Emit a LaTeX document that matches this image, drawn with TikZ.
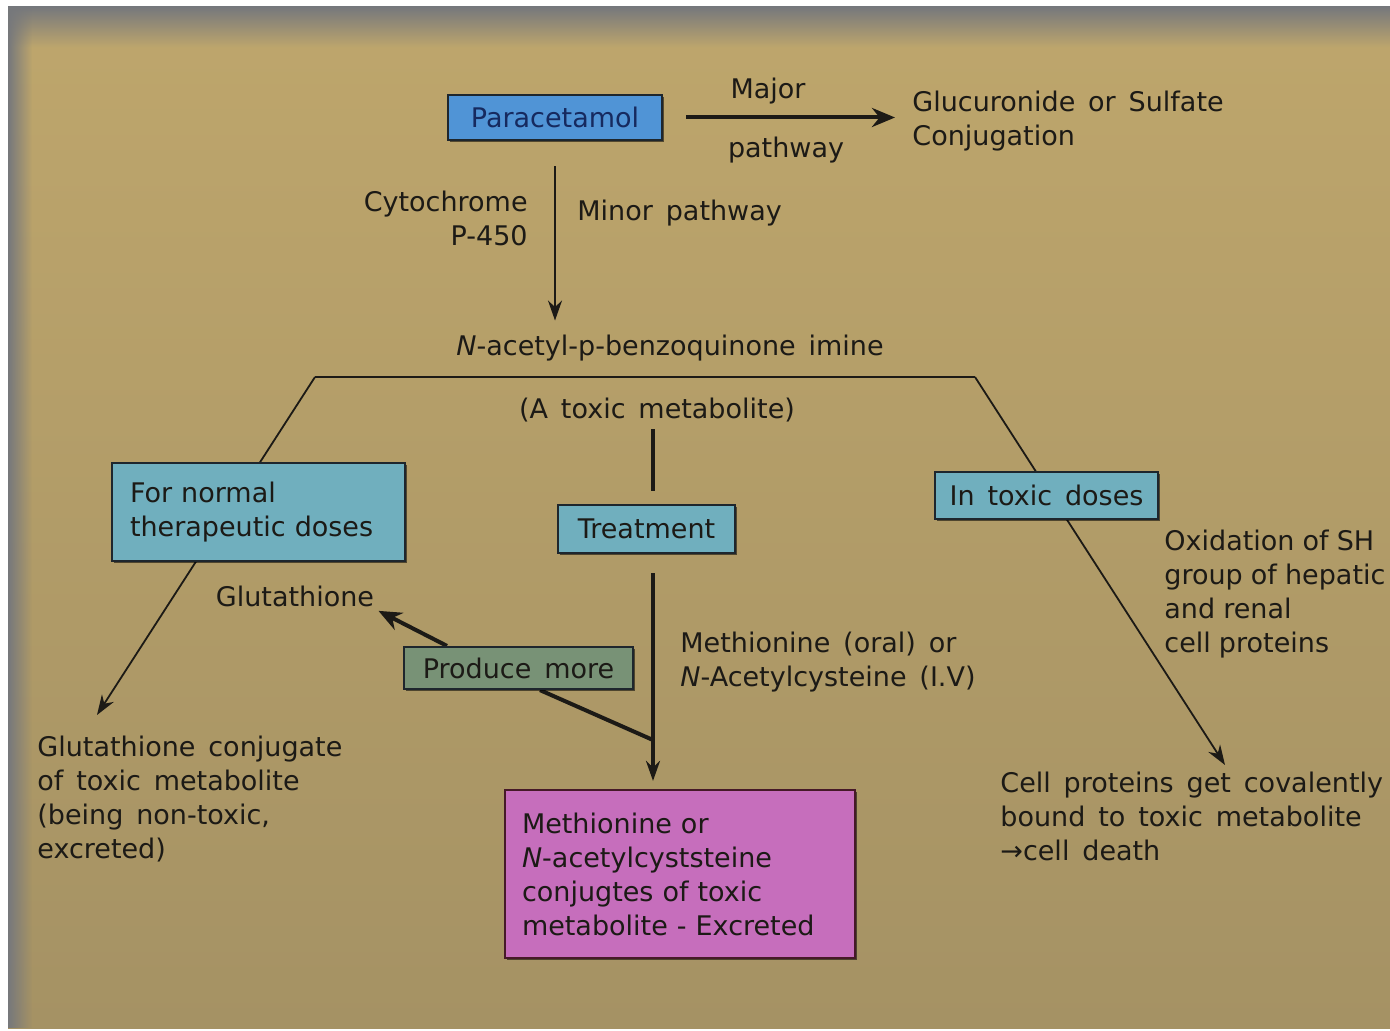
\documentclass[tikz,border=0pt]{standalone}
\usepackage{fontspec}
\setmainfont{DejaVu Sans}[WordSpace=1.5]
\usetikzlibrary{arrows.meta,shadows,fadings}
\definecolor{tantop}{RGB}{190,166,108}
\definecolor{tan}{RGB}{197,172,113}
\definecolor{tandark}{RGB}{165,146,100}
\definecolor{band}{RGB}{118,120,124}
\definecolor{ink}{RGB}{28,26,22}
\definecolor{navy}{RGB}{22,42,95}
\definecolor{parablue}{RGB}{80,148,214}
\definecolor{tealbox}{RGB}{112,175,190}
\definecolor{sage}{RGB}{120,146,118}
\definecolor{mauve}{RGB}{198,110,188}
\definecolor{edge}{RGB}{30,38,45}
\definecolor{maroonedge}{RGB}{70,25,40}
\pgfdeclarelayer{bg}\pgfdeclarelayer{lines}\pgfsetlayers{bg,lines,main}
\tikzset{
 base/.style={font=\fontsize{13.5}{17}\selectfont, text=ink},
 lbl/.style={base, inner sep=0pt},
 box/.style={base, draw=edge, line width=1.1pt, inner sep=0pt,
   drop shadow={shadow xshift=1.2pt, shadow yshift=-1.2pt, opacity=0.55, fill=black}},
 arr/.style={-{Stealth[length=10pt,width=7pt]}},
 arrbig/.style={-{Stealth[length=11.5pt,width=9.5pt]}},
 thinln/.style={draw=ink, line width=0.9pt},
 thickln/.style={draw=ink, line width=1.6pt},
 heavyln/.style={draw=ink, line width=2pt},
}
\begin{document}
\begin{tikzpicture}[x=0.5pt,y=-0.5pt]
\clip (0,0) rectangle (1390,1031);
\begin{pgfonlayer}{bg}
\fill[white] (0,0) rectangle (1390,1031);
\shade[top color=tantop, middle color=tan, bottom color=tandark] (8,7) rectangle (1390,1028);
\shade[top color=band, bottom color=tantop] (8,7) rectangle (1390,48);
\fill[band, path fading=east] (8,7) rectangle (32,1028);
\end{pgfonlayer}

% nodes
\node[box, fill=parablue, text=navy, minimum width=107pt, minimum height=22.5pt] (para) at (555,117.5) {Paracetamol};
\node[lbl] (major) at (768,91) {Major};
\node[lbl] (pathway) at (786,150) {pathway};
\node[lbl, anchor=west, align=left] (gluc) at (912,121) {Glucuronide or Sulfate\\Conjugation};
\node[lbl, anchor=east, align=right] (cyto) at (528,218.5) {Cytochrome\\P-450};
\node[lbl, anchor=west] (minor) at (577,213) {Minor pathway};
\node[lbl] (napqi) at (670,348) {\textit{N}-acetyl-p-benzoquinone imine};
\node[lbl] (atoxic) at (657,410) {(A toxic metabolite)};
\node[box, fill=tealbox, minimum width=88.5pt, minimum height=24pt] (treat) at (646.5,529) {Treatment};
\node[box, fill=tealbox, align=left, text width=128.5pt, inner xsep=9pt, minimum height=49pt] (normal) at (258.5,512) {For normal\\therapeutic doses};
\node[box, fill=tealbox, minimum width=111.5pt, minimum height=23.5pt] (toxic) at (1046.5,495.5) {In toxic doses};
\node[lbl] (glut) at (295,596) {Glutathione};
\node[box, fill=sage, minimum width=114.5pt, minimum height=21pt] (produce) at (518.5,668) {Produce more};
\node[lbl, anchor=west, align=left] (meth) at (680,662) {Methionine (oral) or\\\textit{N}-Acetylcysteine (I.V)};
\node[box, fill=mauve, draw=maroonedge, align=left, text width=158pt, inner xsep=8.5pt, minimum height=84pt] (purple) at (680,874) {Methionine or\\\textit{N}-acetylcyststeine\\conjugtes of toxic\\metabolite - Excreted};
\node[lbl, anchor=west, align=left] (gconj) at (37,799.5) {Glutathione conjugate\\of toxic metabolite\\(being non-toxic,\\excreted)};
\node[lbl, anchor=west, align=left, execute at begin node={\spaceskip=0.3em\relax}] (oxid) at (1164,594.5) {Oxidation of SH\\group of hepatic\\and renal\\cell proteins};
\node[lbl, anchor=west, align=left] (cellp) at (1000,816.5) {Cell proteins get covalently\\bound to toxic metabolite\\→cell death};

% connectors
\coordinate (TL) at (315,377);
\coordinate (TR) at (975,377);
\coordinate (gcend) at (97,715);
\coordinate (cpend) at (1225,765);
\coordinate (J) at (653,740);
\begin{pgfonlayer}{lines}
\draw[heavyln, arrbig, shorten >=8.5pt] ([xshift=11.5pt]para.east) -- (gluc.west |- para.east);
\draw[draw=ink, line width=1pt, arr, shorten <=12.5pt, shorten >=7pt] (para.south) -- (para.south |- napqi.north);
\draw[draw=ink, line width=1pt] (TL) -- (TR);
\draw[thinln, arr] (TL) -- (gcend);
\draw[thinln, arr] (TR) -- (cpend);
\draw[thickln, shorten <=3.5pt, shorten >=6.5pt] (atoxic.south -| J) -- (treat.north -| J);
\draw[thickln, shorten <=9.5pt] (treat.south -| J) -- (J);
\draw[thickln, arr, shorten >=4pt] (J) -- (J |- purple.north);
\draw[heavyln] ([xshift=10.75pt]produce.south) -- (J);
\draw[heavyln, arrbig] ([xshift=-35.75pt]produce.north) -- ([xshift=2pt,yshift=-2pt]glut.south east);
\end{pgfonlayer}
\end{tikzpicture}
\end{document}
